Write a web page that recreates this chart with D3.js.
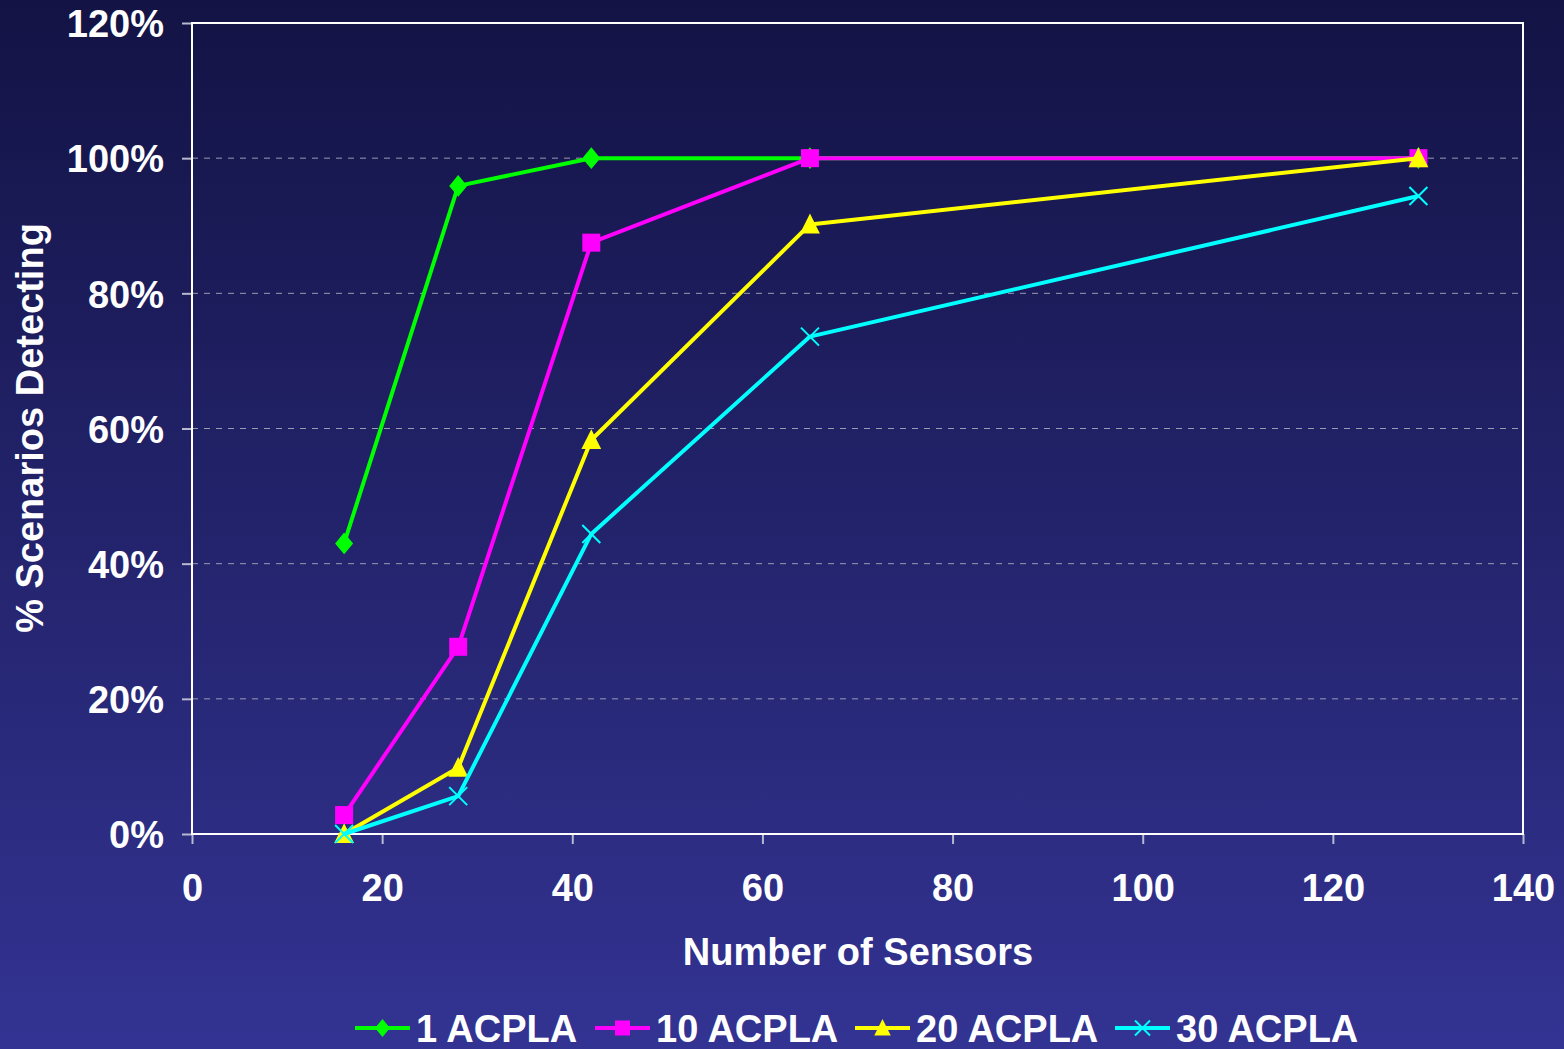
<!DOCTYPE html>
<html><head><meta charset="utf-8">
<script src="https://cdn.jsdelivr.net/npm/d3@7/dist/d3.min.js"></script>
<style>html,body{margin:0;padding:0;overflow:hidden;}</style>
</head><body>
<script>
const sensors = [16, 28, 42, 65, 129];
const seriesNames = ["1 ACPLA", "10 ACPLA", "20 ACPLA", "30 ACPLA"];
const acpla1 = [0.43, 0.959, 1.0, 1.0, 1.0];
const acpla10 = [0.028, 0.277, 0.875, 1.0, 1.0];
const acpla20 = [0.0, 0.098, 0.583, 0.902, 1.0];
const acpla30 = [0.0, 0.056, 0.444, 0.736, 0.944];
const xTicks = [0, 20, 40, 60, 80, 100, 120, 140];
const yTicks = [0, 0.2, 0.4, 0.6, 0.8, 1.0, 1.2];
const colors = ["#00ff00", "#ff00ff", "#ffff00", "#00ffff"];
const symbolsKind = ["diamond", "square", "triangle", "cross"];

const W = 1564, H = 1049;
const m = {left: 192, top: 23, right: 1523, bottom: 834};
const font = "'Liberation Sans', Arial, sans-serif";
const fs = 38;

const svg = d3.select("body").append("svg").attr("width", W).attr("height", H);
const defs = svg.append("defs");
const grad = defs.append("linearGradient").attr("id", "bg").attr("x1", 0).attr("y1", 0).attr("x2", 0).attr("y2", 1);
grad.append("stop").attr("offset", "0%").attr("stop-color", "#131345");
grad.append("stop").attr("offset", "100%").attr("stop-color", "#333393");
svg.append("rect").attr("width", W).attr("height", H).attr("fill", "url(#bg)");

const x = d3.scaleLinear().domain([0, 140]).range([m.left, m.right]);
const y = d3.scaleLinear().domain([0, 1.2]).range([m.bottom, m.top]);

// gridlines
svg.append("g").selectAll("line").data(yTicks.filter(t => t > 0 && t < 1.2)).join("line")
  .attr("x1", m.left).attr("x2", m.right).attr("y1", d => y(d)).attr("y2", d => y(d))
  .attr("stroke", "#9a9ab0").attr("stroke-width", 1).attr("stroke-dasharray", "6,6");

// axes
const yAxis = d3.axisLeft(y).tickValues(yTicks).tickFormat(d => Math.round(d * 100) + "%").tickSize(10).tickPadding(18);
const gy = svg.append("g").attr("transform", `translate(${m.left},0)`).call(yAxis);
const xAxis = d3.axisBottom(x).tickValues(xTicks).tickFormat(d3.format("d")).tickSize(10).tickPadding(30);
const gx = svg.append("g").attr("transform", `translate(0,${m.bottom})`).call(xAxis);
[gx, gy].forEach(g => {
  g.select(".domain").remove();
  g.selectAll(".tick line").attr("stroke", "#b8b8d0").attr("stroke-width", 2);
  g.selectAll(".tick text").attr("fill", "#fff").attr("font-family", font).attr("font-weight", "bold").attr("font-size", fs);
});
gy.selectAll(".tick text").attr("dy", "0.36em");

// frame
svg.append("rect").attr("x", m.left).attr("y", m.top).attr("width", m.right - m.left).attr("height", m.bottom - m.top)
  .attr("fill", "none").attr("stroke", "#fff").attr("stroke-width", 2);

// axis titles
svg.append("text").attr("x", 858).attr("y", 965).attr("text-anchor", "middle")
  .attr("fill", "#fff").attr("font-family", font).attr("font-weight", "bold").attr("font-size", fs).text("Number of Sensors");
svg.append("text").attr("transform", `translate(43,428) rotate(-90)`).attr("text-anchor", "middle")
  .attr("fill", "#fff").attr("font-family", font).attr("font-weight", "bold").attr("font-size", fs).text("% Scenarios Detecting");

function drawMarker(g, kind, color, cx, cy, s) {
  if (kind === "diamond") {
    g.append("path").attr("d", `M${cx},${cy - s * 0.6}L${cx + s * 0.5},${cy}L${cx},${cy + s * 0.6}L${cx - s * 0.5},${cy}Z`).attr("fill", color);
  } else if (kind === "square") {
    g.append("rect").attr("x", cx - s / 2).attr("y", cy - s / 2).attr("width", s).attr("height", s).attr("fill", color);
  } else if (kind === "triangle") {
    g.append("path").attr("d", `M${cx},${cy - s * 0.6}L${cx + s * 0.55},${cy + s * 0.5}L${cx - s * 0.55},${cy + s * 0.5}Z`).attr("fill", color);
  } else {
    const h = s / 2;
    g.append("path").attr("d", `M${cx - h},${cy - h}L${cx + h},${cy + h}M${cx - h},${cy + h}L${cx + h},${cy - h}`)
      .attr("stroke", color).attr("stroke-width", 2).attr("fill", "none");
  }
}

const allSeries = [acpla1, acpla10, acpla20, acpla30];
const line = d3.line().x((d, i) => x(sensors[i])).y(d => y(d));
allSeries.forEach((vals, si) => {
  const g = svg.append("g");
  g.append("path").attr("d", line(vals)).attr("fill", "none").attr("stroke", colors[si]).attr("stroke-width", 4).attr("stroke-linejoin", "round");
  vals.forEach((v, i) => drawMarker(g, symbolsKind[si], colors[si], x(sensors[i]), y(v), 18));
});

// legend
const legX = [355, 595, 855, 1115];
seriesNames.forEach((name, si) => {
  const g = svg.append("g");
  const lx = legX[si], ly = 1028;
  g.append("line").attr("x1", lx).attr("x2", lx + 55).attr("y1", ly).attr("y2", ly).attr("stroke", colors[si]).attr("stroke-width", 4);
  drawMarker(g, symbolsKind[si], colors[si], lx + 27.5, ly, 15);
  g.append("text").attr("x", lx + 61).attr("y", ly + 14).attr("fill", "#fff").attr("font-family", font)
    .attr("font-weight", "bold").attr("font-size", fs).text(name);
});
</script>
</body></html>
